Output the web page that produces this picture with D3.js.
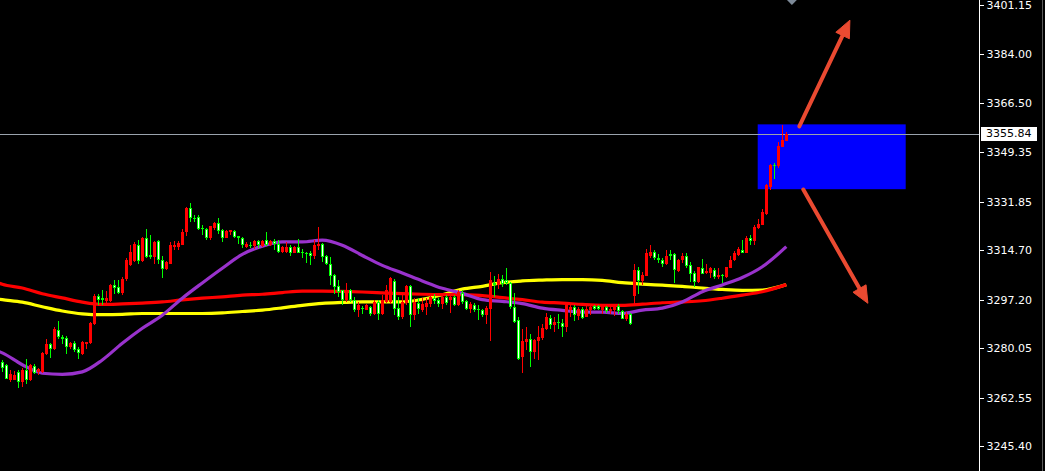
<!DOCTYPE html>
<html>
<head>
<meta charset="utf-8">
<script src="https://cdn.jsdelivr.net/npm/d3@7"></script>
<style>
  html, body { margin: 0; padding: 0; background: #000; overflow: hidden; }
  svg { display: block; }
</style>
</head>
<body>
<svg id="chart" width="1045" height="471"></svg>
<script>
// ---- OHLC bars (oldest first) ----
const open = [
  3275.2,3274.0,3268.7,3268.9,3271.6,3268.1,3272.5,3268.7,3273.7,3271.6,
  3271.6,3278.1,3281.4,3279.7,3286.6,3284.0,3283.7,3280.5,3281.9,3279.6,
  3278.1,3281.7,3281.9,3288.6,3298.6,3297.6,3296.7,3296.7,3302.4,3301.7,
  3299.5,3304.4,3309.3,3310.9,3316.6,3310.7,3319.1,3312.9,3312.3,3317.8,
  3311.1,3307.9,3309.9,3315.8,3315.8,3316.6,3321.1,3329.6,3326.0,3326.4,
  3322.5,3322.3,3318.8,3322.5,3324.1,3321.9,3319.0,3321.1,3321.4,3319.6,
  3319.1,3315.8,3316.6,3316.0,3317.8,3316.0,3318.4,3316.4,3317.8,3317.0,
  3314.0,3314.0,3315.8,3313.8,3315.8,3314.0,3313.8,3313.5,3312.5,3316.0,
  3316.7,3312.5,3309.7,3305.8,3301.9,3300.5,3297.0,3300.5,3297.2,3293.4,
  3294.4,3293.7,3294.6,3292.3,3296.4,3292.3,3296.4,3296.3,3303.8,3294.4,
  3291.1,3296.0,3301.9,3291.7,3296.0,3293.7,3294.6,3295.5,3297.9,3297.0,
  3295.8,3298.1,3297.0,3298.1,3295.2,3299.5,3296.7,3294.0,3295.2,3294.0,
  3293.4,3291.7,3294.0,3303.1,3302.3,3304.6,3304.0,3302.9,3294.6,3289.9,
  3276.8,3282.2,3283.4,3278.7,3282.5,3283.6,3287.0,3290.7,3288.4,3289.3,
  3289.1,3287.5,3293.4,3294.6,3291.4,3294.0,3291.0,3293.4,3294.8,3294.8,
  3293.4,3294.6,3293.1,3293.4,3294.9,3293.1,3290.5,3292.3,3298.5,3307.6,
  3303.7,3305.6,3312.6,3314.0,3312.0,3311.3,3309.9,3313.2,3313.2,3307.3,
  3311.3,3312.5,3309.3,3306.6,3303.4,3308.5,3306.6,3306.6,3307.6,3305.2,
  3306.0,3305.2,3308.5,3311.3,3312.9,3314.9,3313.7,3319.0,3317.8,3322.5,
  3323.7,3327.6,3337.0,3344.9,3344.4,3351.1,3353.1
];
const high = [
  3275.8,3274.4,3272.3,3272.0,3272.3,3273.2,3276.4,3274.6,3274.4,3273.2,
  3278.7,3283.4,3281.9,3287.5,3289.5,3284.6,3284.2,3282.2,3282.6,3280.5,
  3282.5,3282.3,3289.3,3299.3,3299.3,3300.7,3300.3,3302.6,3304.0,3304.0,
  3305.1,3311.8,3316.4,3317.6,3318.2,3319.3,3322.3,3320.2,3318.0,3318.2,
  3312.5,3310.7,3317.6,3317.8,3317.8,3322.3,3329.9,3331.5,3327.2,3327.0,
  3323.5,3322.6,3323.1,3324.6,3326.0,3322.3,3321.7,3321.7,3321.9,3319.6,
  3319.3,3317.6,3317.6,3318.2,3318.2,3318.2,3321.1,3318.4,3318.7,3318.2,
  3316.0,3317.6,3316.4,3316.0,3318.7,3315.2,3314.0,3314.3,3318.4,3322.9,
  3317.2,3312.9,3312.3,3306.4,3304.0,3300.7,3302.9,3301.1,3298.1,3296.4,
  3294.8,3295.8,3294.8,3297.0,3297.2,3298.7,3302.3,3305.2,3304.6,3298.1,
  3299.3,3302.3,3302.3,3297.6,3297.6,3297.9,3297.6,3299.1,3299.1,3297.9,
  3299.1,3298.7,3298.7,3298.7,3300.5,3300.7,3297.2,3296.4,3296.0,3295.2,
  3294.0,3294.8,3306.9,3305.4,3306.1,3305.8,3308.2,3303.4,3299.5,3290.9,
  3286.7,3287.5,3285.2,3283.2,3287.9,3288.7,3292.6,3291.9,3291.1,3292.3,
  3290.5,3296.4,3295.2,3295.2,3294.6,3294.6,3294.9,3295.2,3295.4,3295.2,
  3295.2,3294.9,3294.6,3295.2,3295.8,3293.4,3292.8,3292.6,3309.7,3308.7,
  3306.9,3315.2,3316.6,3314.6,3313.2,3312.0,3314.9,3314.9,3313.7,3311.7,
  3313.5,3313.5,3310.5,3307.2,3308.9,3311.7,3309.7,3308.7,3308.2,3308.5,
  3306.4,3308.9,3312.5,3314.4,3315.8,3318.2,3319.6,3319.9,3323.5,3325.6,
  3329.3,3338.2,3345.2,3345.5,3352.8,3358.8,3356.3
];
const low = [
  3271.6,3269.1,3268.1,3268.7,3266.1,3266.3,3267.5,3268.5,3270.8,3270.5,
  3271.3,3277.5,3276.7,3279.3,3283.4,3281.4,3278.1,3279.6,3278.7,3276.2,
  3277.8,3279.9,3281.7,3288.4,3295.2,3295.2,3295.2,3296.4,3299.3,3299.1,
  3299.0,3303.9,3309.0,3310.5,3309.9,3310.5,3311.9,3311.7,3309.9,3309.9,
  3304.8,3307.6,3309.7,3314.6,3314.6,3316.4,3319.7,3324.6,3324.6,3321.7,
  3320.2,3318.4,3318.2,3321.7,3320.5,3317.6,3318.8,3319.9,3318.8,3316.7,
  3315.6,3315.4,3315.6,3315.2,3315.4,3315.8,3316.0,3316.0,3314.9,3313.5,
  3313.5,3313.5,3312.6,3313.7,3313.5,3312.0,3310.1,3309.3,3311.7,3314.6,
  3310.5,3309.3,3302.3,3299.3,3298.1,3295.2,3296.4,3296.4,3292.8,3291.0,
  3292.3,3293.4,3291.3,3291.9,3289.9,3291.7,3295.9,3295.8,3291.7,3289.9,
  3290.5,3295.2,3287.5,3290.1,3292.3,3292.8,3291.7,3294.6,3295.8,3294.6,
  3294.0,3295.2,3292.5,3294.8,3294.8,3295.8,3293.7,3292.5,3292.8,3289.9,
  3291.1,3288.7,3282.6,3298.1,3301.1,3301.7,3302.3,3294.0,3288.9,3275.8,
  3271.4,3279.3,3273.4,3276.1,3275.8,3282.8,3286.4,3287.0,3285.8,3286.7,
  3284.0,3285.8,3291.1,3289.5,3289.9,3290.2,3291.0,3291.9,3293.4,3293.4,
  3292.3,3292.5,3292.3,3291.4,3292.3,3290.2,3289.5,3288.4,3295.8,3299.3,
  3302.5,3305.5,3311.9,3311.1,3310.1,3308.9,3309.6,3311.1,3302.9,3307.0,
  3310.1,3308.5,3303.4,3301.5,3302.9,3306.1,3306.1,3305.0,3304.6,3304.6,
  3303.1,3305.0,3308.5,3310.9,3312.5,3313.5,3313.6,3316.4,3316.4,3322.3,
  3323.5,3327.2,3335.8,3339.7,3343.6,3351.1,3353.1
];
const close = [
  3273.2,3269.2,3271.1,3270.5,3268.1,3272.5,3268.7,3274.0,3271.3,3272.8,
  3278.4,3281.4,3279.7,3286.7,3284.0,3283.2,3280.5,3281.9,3279.3,3278.4,
  3282.1,3282.2,3288.9,3298.4,3297.2,3297.0,3297.6,3302.3,3301.3,3299.5,
  3304.4,3311.3,3313.9,3317.0,3310.7,3319.1,3312.3,3312.3,3317.6,3311.1,
  3307.9,3310.5,3316.4,3316.4,3317.2,3321.1,3329.6,3326.0,3325.6,3322.3,
  3322.0,3319.0,3323.1,3324.4,3321.3,3319.0,3321.3,3321.7,3319.3,3319.0,
  3316.4,3317.0,3316.1,3317.8,3316.4,3317.8,3316.4,3317.9,3316.7,3314.0,
  3315.8,3315.8,3313.8,3315.8,3313.8,3313.5,3313.5,3312.5,3316.4,3317.0,
  3312.3,3309.9,3305.5,3301.7,3299.9,3297.0,3300.5,3297.0,3293.4,3295.2,
  3294.0,3295.2,3292.0,3296.4,3292.0,3297.2,3300.5,3304.7,3294.0,3291.1,
  3296.4,3301.9,3291.7,3296.4,3294.0,3295.8,3296.0,3298.1,3296.7,3295.8,
  3298.1,3296.0,3298.1,3295.2,3299.9,3296.4,3294.0,3295.8,3293.4,3293.4,
  3291.7,3294.4,3304.0,3302.3,3304.6,3302.6,3302.9,3294.6,3289.3,3276.4,
  3282.5,3283.4,3278.7,3282.8,3284.0,3287.2,3291.1,3288.4,3289.3,3289.0,
  3287.5,3295.2,3294.6,3291.7,3294.0,3290.7,3294.0,3294.6,3294.0,3294.0,
  3294.6,3293.1,3294.0,3294.9,3293.1,3290.5,3292.3,3288.7,3307.6,3303.7,
  3306.0,3313.5,3314.0,3311.8,3311.3,3309.9,3312.5,3312.5,3307.6,3311.3,
  3312.5,3309.1,3306.4,3303.4,3308.7,3306.4,3307.2,3308.5,3305.2,3306.0,
  3305.7,3308.7,3311.3,3313.7,3315.0,3313.7,3318.9,3317.8,3322.9,3324.0,
  3328.1,3337.8,3344.9,3344.4,3351.3,3353.5,3355.84
];

// ---- moving averages, sampled at bar indices ----
const maIndex = [-1,0,5,10,15,20,25,30,35,40,45,50,55,60,65,70,75,80,85,90,
  95,100,105,110,115,120,125,130,135,140,145,150,155,160,165,170,175,180,185,190,196];
const maPurple = [3279.0,3278.4,3274.2,3271.2,3270.8,3271.7,3275.9,3281.8,3287.1,3291.7,
  3297.7,3303.1,3308.3,3313.2,3316.1,3317.6,3317.6,3318.2,3316.4,3312.8,
  3309.3,3306.6,3303.8,3301.2,3299.4,3297.2,3296.6,3295.8,3294.2,3293.4,
  3292.8,3292.8,3292.3,3293.5,3294.2,3296.4,3300.0,3302.4,3305.0,3308.8,3315.9];
const maRed = [3303.1,3302.6,3301.3,3299.3,3297.8,3296.3,3295.5,3295.7,3296.0,3296.4,
  3297.1,3297.7,3298.2,3298.8,3299.1,3299.7,3300.2,3300.2,3300.1,3299.9,
  3299.6,3299.3,3299.1,3299.0,3299.0,3298.6,3297.9,3297.2,3296.3,3296.0,
  3295.5,3295.2,3295.2,3295.6,3296.1,3296.4,3296.8,3297.7,3298.8,3300.0,3302.5];
const maYellow = [3297.4,3297.2,3296.3,3294.7,3293.2,3292.2,3291.9,3292.0,3292.3,3292.3,
  3292.3,3292.3,3292.5,3293.0,3293.5,3294.3,3295.2,3295.9,3296.2,3296.4,
  3296.4,3296.4,3297.3,3298.9,3300.9,3301.9,3303.2,3303.8,3304.1,3304.3,
  3304.3,3304.0,3303.2,3302.7,3302.3,3301.9,3301.3,3300.8,3300.5,3300.6,3302.5];

// ---- price scale labels ----
const priceTicks = [3401.15,3384.00,3366.50,3349.35,3331.85,3314.70,3297.20,3280.05,3262.55,3245.40];
const lastPrice = 3355.84;

// ---- drawn objects (bar index / price) ----
const zoneIdx = [188.85, 225.85];
const zonePrice = [3359.1, 3336.2];
const arrowFromIdx = [199.25, 200.25];
const arrowFromPrice = [3358.4, 3336.1];
const arrowToIdx = [211.9, 216.4];
const arrowToPrice = [3395.9, 3295.9];
const markerIdx = 197.4;
const markerPrice = 3403.4;

// ---- layout ----
const W = 1045, H = 471, axisX = 979;
const svg = d3.select("#chart");
const x = d3.scaleLinear().domain([0, 196]).range([2.3, 786.3]);
const y = d3.scaleLinear().domain([3401.15, 3245.40]).range([5.3, 446.3]);

svg.append("rect").attr("width", W).attr("height", H).attr("fill", "#000");

// moving averages
const maLine = vals => d3.line()
  .x((d, i) => x(maIndex[i]))
  .y(d => y(d))
  .curve(d3.curveMonotoneX)(vals);
[[maYellow, "#ffff00"], [maRed, "#ff0000"], [maPurple, "#9932cc"]].forEach(([vals, col]) => {
  svg.append("path").attr("d", maLine(vals))
    .attr("fill", "none").attr("stroke", col).attr("stroke-width", 3.2)
    .attr("stroke-linejoin", "round");
});

// zone rectangle
svg.append("rect")
  .attr("x", x(zoneIdx[0])).attr("y", y(zonePrice[0]))
  .attr("width", x(zoneIdx[1]) - x(zoneIdx[0]))
  .attr("height", y(zonePrice[1]) - y(zonePrice[0]))
  .attr("fill", "#0000ff");

// last price line
const lastY = Math.round(y(lastPrice)) + 0.5;
svg.append("line").attr("x1", 0).attr("x2", axisX).attr("y1", lastY).attr("y2", lastY)
  .attr("stroke", "#9aa3ad").attr("stroke-width", 1);

// candles
const bars = svg.append("g").attr("shape-rendering", "crispEdges");
open.forEach((o, i) => {
  const c = close[i];
  const up = c >= o;
  const cx = Math.round(x(i));
  const hi = Math.max(high[i], o, c), lo = Math.min(low[i], o, c);
  const wT = Math.round(y(hi)), wB = Math.round(y(lo));
  bars.append("rect").attr("x", cx).attr("y", wT).attr("width", 1)
    .attr("height", Math.max(1, wB - wT))
    .attr("fill", up ? "#ff0000" : "#00ff00");
  const bT = Math.round(y(Math.max(o, c))), bB = Math.round(y(Math.min(o, c)));
  const bh = Math.max(1, bB - bT);
  if (up) {
    bars.append("rect").attr("x", cx - 1).attr("y", bT).attr("width", 3).attr("height", bh)
      .attr("fill", "#ff0000");
  } else if (bh <= 2) {
    bars.append("rect").attr("x", cx - 1).attr("y", bT).attr("width", 3).attr("height", bh)
      .attr("fill", "#00ff00");
  } else {
    bars.append("rect").attr("x", cx - 1).attr("y", bT).attr("width", 3).attr("height", bh)
      .attr("fill", "#00ff00");
    bars.append("rect").attr("x", cx).attr("y", bT + 1).attr("width", 1).attr("height", bh - 2)
      .attr("fill", "#ffffff");
  }
});

// arrows
const arrowColor = "#ea4a31";
arrowFromIdx.forEach((fi, i) => {
  const x1 = x(fi), y1 = y(arrowFromPrice[i]);
  const x2 = x(arrowToIdx[i]), y2 = y(arrowToPrice[i]);
  const dx = x2 - x1, dy = y2 - y1, len = Math.hypot(dx, dy);
  const ux = dx / len, uy = dy / len, px = -uy, py = ux;
  const headLen = 17, headHalf = 7.5;
  const bx = x2 - ux * headLen, by = y2 - uy * headLen;
  svg.append("line").attr("x1", x1).attr("y1", y1)
    .attr("x2", bx + ux * 2).attr("y2", by + uy * 2)
    .attr("stroke", arrowColor).attr("stroke-width", 4).attr("stroke-linecap", "round");
  svg.append("path")
    .attr("d", `M${x2},${y2}L${bx + px * headHalf},${by + py * headHalf}L${bx - px * headHalf},${by - py * headHalf}Z`)
    .attr("fill", arrowColor).attr("stroke", arrowColor).attr("stroke-width", 1)
    .attr("stroke-linejoin", "round");
});

// small marker at the top edge
{
  const mx = x(markerIdx), my = y(markerPrice), r = 6;
  svg.append("path")
    .attr("d", `M${mx},${my - r}L${mx + r},${my}L${mx},${my + r}L${mx - r},${my}Z`)
    .attr("fill", "#7d8a98");
}

// price axis
svg.append("rect").attr("x", axisX).attr("y", 0).attr("width", W - axisX).attr("height", H).attr("fill", "#000");
const axis = d3.axisRight(y).tickValues(priceTicks).tickFormat(d3.format(".2f"))
  .tickSizeInner(4).tickSizeOuter(0).tickPadding(3);
const gAxis = svg.append("g").attr("transform", `translate(${axisX + 0.5},0)`).call(axis);
gAxis.select(".domain").remove();
gAxis.selectAll(".tick line").attr("stroke", "#ffffff").attr("shape-rendering", "crispEdges");
gAxis.selectAll(".tick text").attr("fill", "#ffffff")
  .style("font-family", "'DejaVu Sans', sans-serif").style("font-size", "11px");
svg.append("line").attr("x1", axisX + 0.5).attr("x2", axisX + 0.5).attr("y1", 0).attr("y2", H)
  .attr("stroke", "#ffffff").attr("stroke-width", 1);
svg.append("line").attr("x1", W - 2.5).attr("x2", W - 2.5).attr("y1", 0).attr("y2", H)
  .attr("stroke", "#5a5a5a").attr("stroke-width", 1);

// last price tag
svg.append("rect").attr("x", axisX + 2).attr("y", Math.round(y(lastPrice)) - 7)
  .attr("width", 56).attr("height", 14).attr("fill", "#ffffff");
svg.append("text").attr("x", axisX + 7).attr("y", y(lastPrice)).attr("dy", "0.35em")
  .attr("fill", "#000000").style("font-family", "'DejaVu Sans', sans-serif").style("font-size", "11px")
  .text(d3.format(".2f")(lastPrice));
</script>
</body>
</html>
